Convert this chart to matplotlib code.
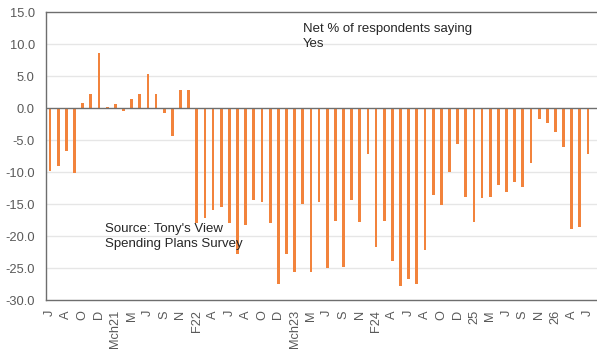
import matplotlib
matplotlib.use("Agg")
import matplotlib.pyplot as plt
import numpy as np

# Monthly survey readings, net % saying "Yes"
net_yes = [
    -9.8, -9.0, -6.6, -10.1, 0.9, 2.2, 8.6, 0.2, 0.6, -0.4,
    1.5, 2.2, 5.3, 2.2, -0.7, -4.4, 2.8, 2.9, -17.9, -17.2,
    -15.9, -15.5, -18.0, -22.8, -18.3, -14.4, -14.6, -18.0, -27.5, -22.7,
    -25.5, -14.9, -25.6, -14.6, -25.0, -17.6, -24.8, -14.4, -17.8, -7.2,
    -21.7, -17.6, -23.8, -27.8, -26.7, -27.5, -22.2, -13.5, -15.1, -10.0,
    -5.6, -13.8, -17.8, -14.0, -13.8, -12.0, -13.1, -11.5, -12.3, -8.5,
    -1.7, -2.3, -3.7, -6.1, -18.8, -18.6, -7.2,
]

# Category labels, shown on every second period
shown_labels = [
    "J", "A", "O", "D", "Mch21", "M", "J", "S", "N", "F22",
    "A", "J", "A", "O", "D", "Mch23", "M", "J", "S", "N",
    "F24", "A", "J", "A", "O", "D", "25", "M", "J", "S",
    "N", "26", "A", "J",
]

y_ticks = [15.0, 10.0, 5.0, 0.0, -5.0, -10.0, -15.0, -20.0, -25.0, -30.0]

plt.rcParams["font.family"] = ["Liberation Sans", "DejaVu Sans"]

bar_color = "#F2833C"
axis_color = "#6E6E6E"
text_gray = "#595959"
grid_color = "#E6E6E6"

W, H = 597, 354
fig = plt.figure(figsize=(W / 100, H / 100), dpi=100)
left_px, right_px, top_px, bottom_px = 46, 597, 12.3, 300.3
ax = fig.add_axes([left_px / W, 1 - bottom_px / H,
                   (right_px - left_px) / W, (bottom_px - top_px) / H])

x = np.arange(len(net_yes))
ax.bar(x, net_yes, width=0.34, color=bar_color, zorder=3)

ax.set_ylim(-30, 15)
ax.set_xlim(-0.5, 67.1)
ax.set_yticks(y_ticks)
ax.set_yticklabels([f"{v:.1f}" for v in y_ticks], fontsize=9.3, color=text_gray)
for v in y_ticks:
    if v not in (15.0, -30.0, 0.0):
        ax.axhline(v, color=grid_color, lw=1.0, zorder=1)
ax.axhline(0, color=axis_color, lw=1.0, zorder=4)

ax.set_xticks(x[::2])
ax.set_xticklabels(shown_labels, rotation=90, fontsize=9.2, color=text_gray)
ax.tick_params(axis="y", length=0, pad=8)
ax.tick_params(axis="x", length=0, pad=7)

for side in ("left", "top", "bottom"):
    ax.spines[side].set_color(axis_color)
    ax.spines[side].set_linewidth(1.0)
ax.spines["right"].set_visible(False)

fig.text(303 / W, 1 - 47 / H, "Net % of respondents saying\nYes",
         fontsize=9.5, color="#262626", ha="left", va="baseline",
         linespacing=1.38)
fig.text(105 / W, 1 - 247 / H, "Source: Tony's View\nSpending Plans Survey",
         fontsize=9.5, color="#262626", ha="left", va="baseline",
         linespacing=1.38)

fig.savefig("out.png", dpi=100)
